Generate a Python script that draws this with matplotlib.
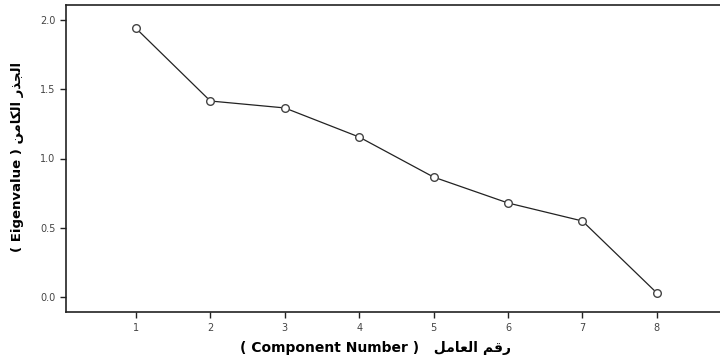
import matplotlib
matplotlib.use("Agg")
import matplotlib.pyplot as plt

components = [1, 2, 3, 4, 5, 6, 7, 8]
eigenvalues = [1.94, 1.415, 1.365, 1.155, 0.866, 0.679, 0.549, 0.03]
xtick_labels = ["1", "2", "3", "4", "5", "6", "7", "8"]
ytick_values = [0.0, 0.5, 1.0, 1.5, 2.0]

# Arabic in presentation forms, visual (left-to-right) order
ar_x = "\uFEDE\uFEE3\uFE8E\uFECC\uFEDF\uFE8D \uFEE2\uFED7\uFEAD"        # رقم العامل
ar_y = "\uFEE6\uFEE3\uFE8E\uFEDC\uFEDF\uFE8D \uFEAD\uFEAC\uFEA0\uFEDF\uFE8D"  # الجذر الكامن

fig = plt.figure(figsize=(7.2, 3.61), dpi=100)
ax = fig.add_axes([66/720, 1-312/361, 1-66/720, (312-5)/361])

ax.plot(components, eigenvalues, color="#222222", lw=0.9, marker="o",
        markersize=5.5, markerfacecolor="white", markeredgecolor="#444444",
        markeredgewidth=1.0)

ax.set_xlim(0.06, 8.85)
ax.set_ylim(-0.108, 2.108)
ax.set_xticks(components)
ax.set_xticklabels(xtick_labels)
ax.set_yticks(ytick_values)
ax.set_yticklabels([f"{v:.1f}" for v in ytick_values])
ax.tick_params(axis="both", labelsize=7, length=4, width=1, color="#222222",
               labelcolor="#444444")
ax.tick_params(axis="x", pad=4)
ax.spines["right"].set_visible(False)
for s in ["left", "bottom", "top"]:
    ax.spines[s].set_linewidth(1.2)
    ax.spines[s].set_color("#222222")

fig.text(375/720, 1-348/361, "( Component Number )   " + ar_x,
         ha="center", va="center", fontsize=10, fontweight="bold",
         family=["DejaVu Sans"])
fig.text(18/720, 1-157/361, "( Eigenvalue ) " + ar_y,
         ha="center", va="center", rotation=90, fontsize=9.5,
         fontweight="bold", family=["DejaVu Sans"])

fig.savefig("out.png", dpi=100)
